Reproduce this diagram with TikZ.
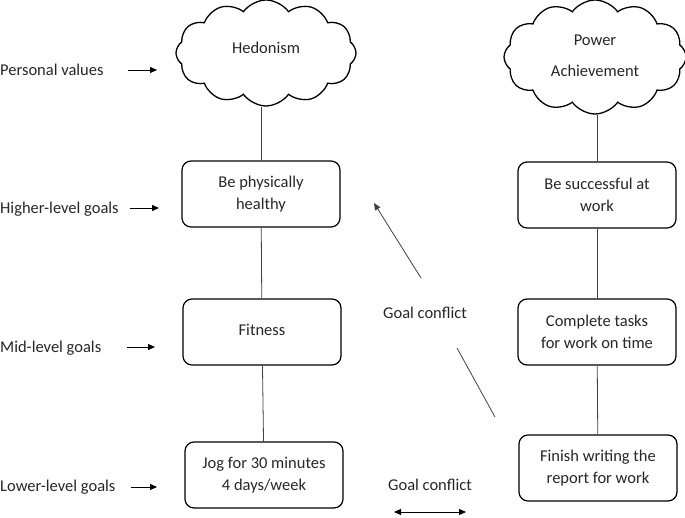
\documentclass[tikz,border=0pt]{standalone}
\usepackage{fontspec}
\setmainfont{Carlito}
\usetikzlibrary{shapes.symbols,arrows.meta}

\begin{document}
\begin{tikzpicture}[x=1pt, y=-1pt, >={Triangle[length=7pt,width=6pt]},
  every node/.style={font=\fontsize{16.5}{21.5}\selectfont, text=black!85},
  goal node/.style={draw, rounded corners=9pt, line width=1.2pt, minimum width=158, minimum height=66, align=center, inner sep=2pt},
  value node/.style={cloud, draw, cloud puffs=12, cloud puff arc=110, line width=1.3pt, inner sep=0pt},
  level node/.style={anchor=west, inner sep=0pt},
  link/.style={draw=black!75, line width=0.8pt}]
\useasboundingbox (0,0) rectangle (685,518);
% values
\node[value node, minimum width=180, minimum height=106] (hed) at (266,53) {};
\node[value node, minimum width=182, minimum height=114] (pow) at (595,57) {};
\node (hedtext) at (266,48) {Hedonism};
\node[align=center] (powtext) at (595,56) {Power\\[10pt]Achievement};
% goals
\node[goal node] (phys) at (261,194) {Be physically\\healthy};
\node[goal node] (fit) at (262,332) {\raisebox{4pt}{Fitness}};
\node[goal node] (jog) at (264,475) {Jog for 30 minutes\\4 days/week};
\node[goal node] (succ) at (597,195) {Be successful at\\work};
\node[goal node] (tasks) at (597,332) {Complete tasks\\for work on time};
\node[goal node] (report) at (598,468) {Finish writing the\\report for work};
\draw[link] (phys.north |- hed.south) -- (phys.north);
\draw[link] (phys) -- (fit);
\draw[link] (fit) -- (jog);
\draw[link] (succ.north |- pow.south) -- (succ.north);
\draw[link] (succ) -- (tasks);
\draw[link] (tasks) -- (report);
% levels
\node[level node] (pv) at (0,70) {Personal values};
\node[level node] (hl) at (0,209) {Higher-level goals};
\node[level node] (ml) at (0,348) {Mid-level goals};
\node[level node] (ll) at (0,487) {Lower-level goals};
\coordinate (pv1) at (128,70); \coordinate (pv2) at (157,70);
\coordinate (hl1) at (130,208); \coordinate (hl2) at (159,208);
\coordinate (ml1) at (127,347); \coordinate (ml2) at (155,347);
\coordinate (ll1) at (131,487); \coordinate (ll2) at (157,487);
\draw[->, line width=0.9pt] (pv1) -- (pv2);
\draw[->, line width=0.9pt] (hl1) -- (hl2);
\draw[->, line width=0.9pt] (ml1) -- (ml2);
\draw[->, line width=0.9pt] (ll1) -- (ll2);
% conflicts
\node (gc1) at (425,313) {Goal conflict};
\node (gc2) at (430,485) {Goal conflict};
\coordinate (c1) at (421,278); \coordinate (c2) at (374,203);
\coordinate (c3) at (457,348); \coordinate (c4) at (495,417);
\coordinate (d1) at (394,512); \coordinate (d2) at (466,512);
\draw[->, link] (c1) -- (c2);
\draw[link] (c3) -- (c4);
\draw[<->, line width=0.9pt] (d1) -- (d2);
\end{tikzpicture}
\end{document}
